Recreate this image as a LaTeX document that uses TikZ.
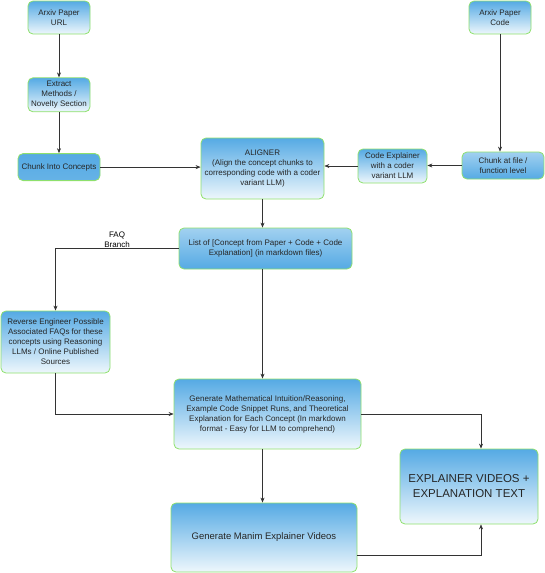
\documentclass[tikz,border=0pt]{standalone}
\usepackage{fontspec}
\setmainfont{Liberation Sans}
\usetikzlibrary{positioning,arrows.meta}
\definecolor{boxblue}{HTML}{55AAE4}
\definecolor{boxpale}{HTML}{EEF7FC}
\definecolor{boxrim}{HTML}{8EE06C}
\definecolor{linegray}{HTML}{333333}
\tikzset{
  block/.style={draw=boxrim, line width=0.8pt, rounded corners=5pt, top color=boxblue, bottom color=boxpale,
    align=center, inner sep=1pt, text=black!85, font=\fontsize{8}{10}\selectfont},
  flatblock/.style={block, top color=boxblue, bottom color=boxblue!90!white},
  upblock/.style={block, top color=boxpale!50!boxblue, bottom color=boxblue},
  line/.style={draw=linegray, line width=0.6pt, -{Stealth[length=5pt,width=4pt]}},
}
\begin{document}
\begin{tikzpicture}[x=1pt, y=1pt, auto, node distance=40pt]
    \useasboundingbox (0,0) rectangle (545,-573);
    % paper side
    \node [block, minimum width=62pt, minimum height=33pt] (url) at (59,-17.5) {Arxiv Paper\\URL};
    \node [block, minimum width=62pt, minimum height=34pt, below=43pt of url] (extract) {Extract\\Methods /\\Novelty Section};
    \node [flatblock, minimum width=82pt, minimum height=27pt, below=41pt of extract] (chunkc) {Chunk Into Concepts};

    % code side
    \node [block, minimum width=62pt, minimum height=33pt] (code) at (500,-17.5) {Arxiv Paper\\Code};
    \node [upblock, minimum width=82pt, minimum height=27pt] (chunkf) at (503,-165.5) {Chunk at file /\\function level};
    \node [block, minimum width=69pt, minimum height=34pt] (codeexp) at (392.5,-166) {Code Explainer\\with a coder\\variant LLM};

    \node [block, minimum width=123pt, minimum height=61pt] (aligner) at (262.5,-168.5) {ALIGNER\\(Align the concept chunks to\\corresponding code with a coder\\variant LLM)};
    \node [upblock, minimum width=173pt, minimum height=41pt] (list) at (265.5,-248.5) {List of [Concept from Paper + Code + Code\\Explanation] (in markdown files)};
    \node [block, minimum width=109pt, minimum height=62pt] (faq) at (55.5,-342) {Reverse Engineer Possible\\Associated FAQs for these\\concepts using Reasoning\\LLMs / Online Published\\Sources};
    \node [block, minimum width=187pt, minimum height=70pt] (gen) at (267.5,-414) {Generate Mathematical Intuition/Reasoning,\\Example Code Snippet Runs, and Theoretical\\Explanation for Each Concept (In markdown\\format - Easy for LLM to comprehend)};
    \node [block, minimum width=138pt, minimum height=75pt, font=\fontsize{11.5}{15}\selectfont] (ev) at (469,-486.5) {EXPLAINER VIDEOS +\\EXPLANATION TEXT};
    \node [block, minimum width=186pt, minimum height=69pt, font=\fontsize{9.5}{12}\selectfont] (manim) at (264,-537.5) {Generate Manim Explainer Videos};

    \draw [line] (url) -- (extract);
    \draw [line] (extract) -- (chunkc);
    \draw [line] (chunkc.east) -- (chunkc.east -| aligner.west);
    \draw [line] (code.south) -- (code.south |- chunkf.north);
    \draw [line] (chunkf.west) -- (chunkf.west -| codeexp.east);
    \draw [line] (codeexp.west) -- (codeexp.west -| aligner.east);
    \draw [line] (aligner.south) -- (aligner.south |- list.north);
    \draw [line] (list.west) -| node [pos=0.25, above, align=center, inner sep=1pt, font=\fontsize{8}{10}\selectfont] {FAQ\\Branch} (faq.north);
    \draw [line] (aligner.south |- list.south) -- (aligner.south |- gen.north);
    \draw [line] (faq.south) |- (gen.west);
    \draw [line] (aligner.south |- gen.south) -- (aligner.south |- manim.north);
    \draw [line] (gen.east) -| ([xshift=12pt]ev.north);
    \draw [line] ([yshift=-17.5pt]manim.east) -| ([xshift=12pt]ev.south);
\end{tikzpicture}
\end{document}
